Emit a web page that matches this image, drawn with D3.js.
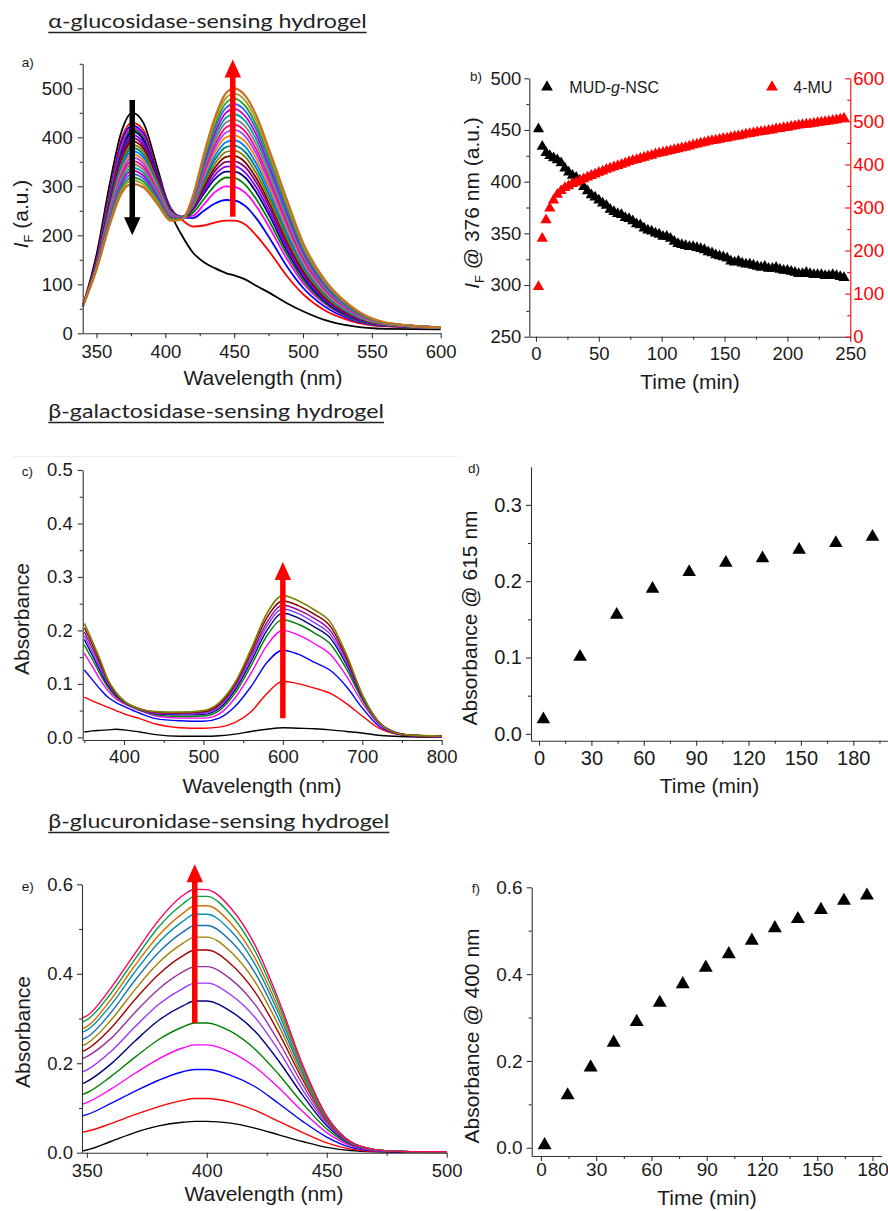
<!DOCTYPE html>
<html><head><meta charset="utf-8">
<script src="https://cdn.jsdelivr.net/npm/d3@7"></script>
<style>body{margin:0;background:#fff}svg{display:block}</style>
</head><body><svg id="fig" width="888" height="1211"></svg>
<script>
// ---------------- DATA ----------------
const titles = ["α-glucosidase-sensing hydrogel", "β-galactosidase-sensing hydrogel", "β-glucuronidase-sensing hydrogel"];

// panel a: fluorescence spectra
const aWavelengths = [340,350,360,368,376,384,394,404,412,420,428,436,444,450,458,466,476,488,500,515,535,560,600];
const aSpectra = [
 [55,160,310,410,450,430,340,245,200,165,145,133,123,118,110,97,82,62,45,28,15,9,8],
 [55,150,295,395,430,415,330,255,232,218,220,226,230,230,222,200,165,118,80,48,25,14,11],
 [55,148,290,388,424,408,328,255,236,235,250,265,272,271,260,235,193,138,93,56,28,15,11],
 [55,146,285,380,420,403,327,254,237,240,263,288,300,299,287,260,214,153,103,62,30,16,11],
 [55,144,280,372,416,399,326,253,237,246,274,302,318,317,303,274,226,162,109,65,31,16,11],
 [55,142,272,365,412,395,325,252,238,252,285,315,330,330,318,288,238,170,115,68,33,17,11],
 [55,141,269,360,405,389,321,251,238,254,290,323,340,341,328,298,246,177,119,71,34,17,11],
 [55,140,266,355,399,383,318,249,237,256,295,331,350,351,339,308,255,183,124,74,36,18,11],
 [55,140,263,350,392,377,314,248,237,257,300,338,360,362,349,317,263,190,128,76,37,18,11],
 [55,139,260,345,385,371,310,247,237,259,305,346,370,373,360,327,271,196,133,79,39,18,11],
 [55,138,257,340,379,365,306,245,236,261,310,354,380,383,370,337,279,203,137,82,40,19,11],
 [55,137,254,335,372,359,303,244,236,263,315,362,390,394,381,347,288,209,141,85,41,19,11],
 [55,137,251,330,365,353,299,242,235,264,320,370,400,404,391,357,296,216,146,87,43,19,11],
 [55,136,249,325,359,347,295,241,235,266,325,378,410,415,402,367,304,223,150,90,44,20,12],
 [55,135,246,320,352,340,291,240,235,268,330,385,420,426,412,376,312,229,154,93,45,20,12],
 [55,134,243,315,345,334,288,238,234,270,335,393,430,436,422,386,321,236,159,96,47,20,12],
 [55,134,240,310,338,328,284,237,234,271,340,401,440,447,433,396,329,242,163,98,48,21,12],
 [55,133,237,305,332,322,280,236,234,273,345,409,450,458,443,406,337,249,167,101,50,21,12],
 [55,132,234,300,325,316,276,234,233,275,350,417,460,468,454,416,345,255,172,104,51,21,12],
 [55,131,231,295,318,310,273,233,233,277,355,424,470,479,464,425,354,262,176,107,52,21,12],
 [55,131,228,290,312,304,269,231,232,278,360,432,480,489,475,435,362,268,180,109,54,22,12],
 [55,130,225,285,305,298,265,230,232,280,365,440,490,500,485,445,370,275,185,112,55,22,12]
];
const aColors = ["#000000","#ff0000","#0000ff","#ff00ff","#008000","#000080","#8000ff","#800080","#800000","#808000","#008080","#0080ff","#ff8000","#a040ff","#ff0080","#808080","#00a0a0","#c000c0","#4060ff","#20a020","#a0a020","#c87020"];
const aArrows = [{x:376, from:476, to:200, color:"#000000"}, {x:449, from:238, to:559, color:"#ff0000"}];

// panel b: time course
const bTime = [2,5,8,11,14,17,20,23,26,29,32,35,38,41,44,47,50,53,56,59,62,65,68,71,74,77,80,83,86,89,92,95,98,101,104,107,110,113,116,119,122,125,128,131,134,137,140,143,146,149,152,155,158,161,164,167,170,173,176,179,182,185,188,191,194,197,200,203,206,209,212,215,218,221,224,227,230,233,236,239,242,245];
const bMUD = [451,434,428,425,423,421,418,413,409,406,404,401,395,391,387,385,382,379,377,373,371,369,368,365,364,362,359,358,355,353,352,350,349,347,347,345,342,340,339,338,337,337,336,335,334,332,331,329,328,327,326,323,322,323,321,320,320,319,318,317,318,316,316,317,315,314,314,313,312,311,311,312,311,310,310,310,309,309,310,309,308,307];
const b4MU = [116,228,271,298,317,330,339,346,350,355,358,362,366,370,374,377,381,384,388,391,394,397,400,403,406,409,411,414,416,419,421,424,426,428,430,432,434,436,438,440,442,445,447,449,451,453,455,456,458,460,461,463,465,466,468,470,471,473,475,476,477,479,480,482,483,485,486,488,489,491,492,493,494,495,497,498,499,500,502,503,505,507];
const bSeries = ["MUD-g-NSC", "4-MU"];

// panel c: absorbance spectra
const cWavelengths = [350,360,370,380,390,400,420,440,470,500,520,540,560,580,600,620,640,660,680,700,720,740,760,800];
const cSpectra = [
 [.010,.012,.013,.014,.015,.014,.010,.005,.002,.002,.003,.006,.011,.015,.018,.017,.016,.014,.011,.008,.004,.002,.001,.000],
 [.075,.068,.062,.056,.050,.044,.035,.025,.018,.017,.019,.028,.048,.082,.105,.100,.092,.082,.063,.040,.018,.007,.003,.001],
 [.126,.108,.090,.075,.065,.058,.045,.035,.031,.030,.036,.058,.095,.140,.163,.155,.140,.125,.095,.055,.022,.008,.003,.001],
 [.157,.133,.108,.087,.072,.063,.050,.040,.036,.036,.044,.074,.120,.172,.200,.191,.175,.155,.115,.065,.026,.009,.004,.001],
 [.173,.146,.118,.093,.076,.065,.051,.042,.039,.040,.050,.083,.134,.190,.220,.211,.195,.174,.128,.071,.028,.010,.004,.002],
 [.183,.154,.124,.097,.078,.066,.052,.044,.042,.043,.054,.089,.142,.200,.232,.223,.206,.185,.136,.075,.029,.010,.004,.002],
 [.190,.160,.129,.100,.080,.067,.052,.045,.044,.045,.057,.093,.148,.208,.240,.231,.214,.192,.140,.077,.029,.010,.004,.002],
 [.197,.167,.135,.103,.081,.067,.053,.046,.045,.047,.060,.097,.154,.215,.247,.238,.222,.199,.145,.078,.030,.010,.004,.002],
 [.205,.174,.140,.105,.082,.068,.053,.047,.046,.048,.062,.100,.160,.224,.255,.246,.230,.207,.150,.079,.030,.009,.004,.002],
 [.213,.180,.145,.107,.084,.068,.053,.048,.047,.050,.065,.103,.165,.232,.265,.255,.238,.215,.155,.080,.030,.009,.004,.002]
];
const cColors = ["#000000","#ff0000","#0000ff","#ff00ff","#008000","#000080","#8040ff","#a000a0","#800000","#808000"];
const cArrow = {x:600, from:0.0355, to:0.328, color:"#ff0000"};

// panel d
const dTime = [2.5,23.5,44.5,65,86,107,128,149,170,191];
const dAbs = [0.019,0.101,0.156,0.190,0.212,0.224,0.230,0.241,0.250,0.258];

// panel e
const eWavelengths = [348,350,360,370,380,390,395,400,410,420,430,440,450,460,470,480,490,500];
const eSpectra = [
 [.004,.006,.025,.045,.060,.068,.070,.070,.066,.055,.040,.025,.012,.005,.002,.001,.001,.001],
 [.046,.048,.065,.085,.103,.117,.121,.121,.113,.095,.070,.045,.022,.008,.003,.002,.001,.001],
 [.082,.085,.110,.137,.162,.181,.186,.186,.173,.148,.110,.070,.035,.012,.004,.002,.002,.001],
 [.108,.112,.142,.177,.210,.234,.241,.241,.225,.192,.145,.092,.045,.016,.005,.003,.002,.002],
 [.130,.134,.170,.213,.253,.281,.290,.290,.271,.232,.175,.110,.053,.018,.006,.003,.002,.002],
 [.154,.159,.198,.249,.296,.328,.339,.339,.316,.272,.205,.128,.060,.020,.006,.003,.002,.002],
 [.180,.185,.226,.281,.332,.367,.379,.379,.353,.303,.228,.140,.065,.021,.006,.003,.002,.002],
 [.210,.215,.255,.313,.366,.404,.416,.416,.388,.332,.248,.152,.069,.022,.006,.003,.002,.002],
 [.226,.231,.278,.342,.399,.440,.453,.453,.422,.360,.268,.163,.073,.023,.007,.003,.002,.002],
 [.239,.244,.296,.364,.425,.468,.482,.482,.449,.383,.284,.170,.075,.023,.007,.003,.002,.002],
 [.253,.258,.313,.385,.448,.493,.508,.508,.473,.403,.298,.177,.077,.024,.007,.003,.002,.002],
 [.269,.274,.330,.404,.470,.517,.533,.533,.496,.422,.311,.183,.079,.024,.007,.003,.002,.002],
 [.277,.282,.342,.418,.486,.535,.552,.552,.513,.436,.321,.187,.080,.024,.007,.003,.002,.002],
 [.292,.297,.356,.432,.505,.556,.573,.573,.532,.452,.332,.192,.081,.024,.007,.003,.002,.002],
 [.301,.306,.368,.445,.520,.575,.589,.588,.547,.465,.341,.196,.082,.024,.007,.003,.002,.002]
];
const eColors = ["#000000","#ff0000","#0000ff","#ff00ff","#008000","#000080","#9933ff","#993399","#a00000","#a08000","#1a70b0","#0090b0","#d07000","#00a040","#ff0066"];
const eArrow = {x:395, from:0.29, to:0.645, color:"#ff0000"};

// panel f
const fTime = [2,14.5,27,39.5,52,64.5,77,89.5,102,114.5,127,139.5,152,164.5,177];
const fAbs = [0.006,0.121,0.185,0.242,0.290,0.334,0.377,0.415,0.446,0.477,0.506,0.527,0.548,0.569,0.581];

// ---------------- DRAWING ----------------
const svg = d3.select("#fig");
const FONT = '"Liberation Sans", Arial, Helvetica, sans-serif';
const AX = "#333333";
const TXT = "#1a1a1a";

function makeAxes(x, y, o) {
  const yb = y.range()[0], xl = x.range()[0];
  const gx = svg.append("g").attr("transform", `translate(0,${yb})`)
    .call(d3.axisBottom(x).tickValues(o.xMajor).tickSize(5).tickSizeOuter(0).tickPadding(o.xPad).tickFormat(o.xFmt));
  const gxm = svg.append("g").attr("transform", `translate(0,${yb})`)
    .call(d3.axisBottom(x).tickValues(o.xMinor).tickSize(3).tickSizeOuter(0).tickFormat(""));
  gxm.select(".domain").remove();
  const gy = svg.append("g").attr("transform", `translate(${xl},0)`)
    .call(d3.axisLeft(y).tickValues(o.yMajor).tickSize(5).tickSizeOuter(0).tickPadding(o.yPad).tickFormat(o.yFmt));
  const gym = svg.append("g").attr("transform", `translate(${xl},0)`)
    .call(d3.axisLeft(y).tickValues(o.yMinor).tickSize(3).tickSizeOuter(0).tickFormat(""));
  gym.select(".domain").remove();
  [gx, gxm, gy, gym].forEach(a => {
    a.attr("font-size", o.fs).attr("font-family", FONT).attr("color", AX);
    a.selectAll(".domain,.tick line").attr("stroke-width", 1.1);
    a.selectAll("text").attr("fill", TXT);
  });
}

function yLabel(cx, cy, parts, fs) {
  const t = svg.append("text").attr("transform", `translate(${cx},${cy}) rotate(-90)`)
    .attr("text-anchor", "middle").attr("font-size", fs).attr("font-family", FONT).attr("fill", TXT);
  parts.forEach(p => {
    const s = t.append("tspan").text(p.t);
    if (p.i) s.attr("font-style", "italic");
    if (p.s) s.attr("font-size", p.s);
    if (p.dy) s.attr("dy", p.dy);
  });
}
function xLabel(cx, by, txt, fs) {
  svg.append("text").attr("x", cx).attr("y", by).attr("text-anchor", "middle")
    .attr("font-size", fs).attr("font-family", FONT).attr("fill", TXT).text(txt);
}
function panelTag(x, y, txt) {
  svg.append("text").attr("x", x).attr("y", y).attr("font-size", 13.5).attr("font-family", FONT).attr("fill", TXT).text(txt);
}
function title(x0, x1, by, uy, txt) {
  svg.append("text").attr("x", x0).attr("y", by).attr("font-size", 19.5).attr("font-family", "Lato, 'Open Sans', sans-serif")
    .attr("fill", "#222").attr("textLength", x1 - x0).attr("lengthAdjust", "spacingAndGlyphs").text(txt);
  svg.append("line").attr("x1", x0).attr("x2", x1).attr("y1", uy).attr("y2", uy).attr("stroke", "#222").attr("stroke-width", 1.3);
}
function arrow(xp, y0, y1, color) {
  const sw = 5.5, hw = 16.5, hl = 18;
  const dir = Math.sign(y1 - y0);
  const yb = y1 - dir * hl;
  const p = `M${xp-sw/2},${y0}L${xp+sw/2},${y0}L${xp+sw/2},${yb}L${xp+hw/2},${yb}L${xp},${y1}L${xp-hw/2},${yb}L${xp-sw/2},${yb}Z`;
  svg.append("path").attr("d", p).attr("fill", color);
}
function spectra(x, y, wl, rows, colors, lw) {
  const line = d3.line().x((d, i) => x(wl[i])).y(d => y(d)).curve(d3.curveMonotoneX);
  rows.forEach((r, i) => {
    svg.append("path").attr("d", line(r)).attr("fill", "none").attr("stroke", colors[i % colors.length])
      .attr("stroke-width", i === rows.length - 1 && lw.last ? lw.last : lw.w).attr("stroke-linejoin", "round");
  });
}
function tri(x, y, xs, ys, color, size) {
  const sym = d3.symbol().type(d3.symbolTriangle).size(size);
  xs.forEach((t, i) => {
    svg.append("path").attr("d", sym()).attr("transform", `translate(${x(t)},${y(ys[i])})`).attr("fill", color);
  });
}

// titles
title(48.3, 366.7, 28, 32.5, titles[0]);
title(48.3, 384, 418, 422.5, titles[1]);
title(48.3, 389.3, 828, 832.5, titles[2]);
svg.append("line").attr("x1", 13).attr("x2", 458).attr("y1", 456.5).attr("y2", 456.5).attr("stroke", "#ececec").attr("stroke-width", 1);

// ---- panel a ----
{
  const x = d3.scaleLinear().domain([340, 600]).range([82.7, 440.7]);
  const y = d3.scaleLinear().domain([0, 550]).range([333.3, 63.8]);
  spectra(x, y, aWavelengths, aSpectra, aColors, {w: 1.8, last: 2.2});
  aArrows.forEach(a => arrow(x(a.x), y(a.from), y(a.to), a.color));
  makeAxes(x, y, {xMajor: [350,400,450,500,550,600], xMinor: [375,425,475,525,575], xFmt: d3.format("d"), xPad: 7,
    yMajor: [0,100,200,300,400,500], yMinor: [50,150,250,350,450,550], yFmt: d3.format("d"), yPad: 5, fs: 18.5});
  yLabel(28, 214, [{t: "I", i: true}, {t: "F", s: 13, dy: 5}, {t: " (a.u.)", dy: -5}], 21);
  xLabel(263, 385, "Wavelength (nm)", 21);
  panelTag(21.7, 67, "a)");
}

// ---- panel b ----
{
  const x = d3.scaleLinear().domain([-5.3, 250]).range([529.3, 850.3]);
  const y = d3.scaleLinear().domain([250, 500]).range([336.7, 78.3]);
  const yr = d3.scaleLinear().domain([0, 600]).range([336.7, 78.3]);
  tri(x, y, bTime, bMUD, "#000000", 55);
  tri(x, yr, bTime, b4MU, "#ff0000", 55);
  makeAxes(x, y, {xMajor: [0,50,100,150,200,250], xMinor: [25,75,125,175,225], xFmt: d3.format("d"), xPad: 5,
    yMajor: [250,300,350,400,450,500], yMinor: [275,325,375,425,475], yFmt: d3.format("d"), yPad: 3, fs: 18.5});
  const gr = svg.append("g").attr("transform", "translate(850.3,0)")
    .call(d3.axisRight(yr).tickValues([0,100,200,300,400,500,600]).tickSizeInner(-5).tickSizeOuter(0).tickPadding(3).tickFormat(d3.format("d")));
  const grm = svg.append("g").attr("transform", "translate(850.3,0)")
    .call(d3.axisRight(yr).tickValues([50,150,250,350,450,550]).tickSizeInner(-3).tickSizeOuter(0).tickFormat(""));
  grm.select(".domain").remove();
  [gr, grm].forEach(a => { a.attr("font-size", 18.5).attr("font-family", FONT).attr("color", "#ff0000");
    a.selectAll(".domain,.tick line").attr("stroke-width", 1.1); });
  // legend
  const sym = d3.symbol().type(d3.symbolTriangle).size(60);
  svg.append("path").attr("d", sym()).attr("transform", "translate(547,87)").attr("fill", "#000");
  const lt = svg.append("text").attr("x", 569.3).attr("y", 93).attr("font-size", 16).attr("font-family", FONT).attr("fill", TXT);
  lt.append("tspan").text("MUD-"); lt.append("tspan").attr("font-style", "italic").text("g"); lt.append("tspan").text("-NSC");
  svg.append("path").attr("d", sym()).attr("transform", "translate(772,87)").attr("fill", "#ff0000");
  svg.append("text").attr("x", 793.3).attr("y", 93).attr("font-size", 16).attr("font-family", FONT).attr("fill", TXT).text(bSeries[1]);
  yLabel(479, 203, [{t: "I", i: true}, {t: "F", s: 13, dy: 5}, {t: " @ 376 nm (a.u.)", dy: -5}], 21);
  xLabel(690, 389, "Time (min)", 21);
  panelTag(470, 81, "b)");
}

// ---- panel c ----
{
  const x = d3.scaleLinear().domain([348, 800]).range([82.7, 441.7]);
  const y = d3.scaleLinear().domain([-0.005, 0.5]).range([740, 470]);
  spectra(x, y, cWavelengths, cSpectra, cColors, {w: 1.4, last: 1.7});
  arrow(x(cArrow.x), y(cArrow.from), y(cArrow.to), cArrow.color);
  makeAxes(x, y, {xMajor: [400,500,600,700,800], xMinor: [350,450,550,650,750], xFmt: d3.format("d"), xPad: 5,
    yMajor: [0,0.1,0.2,0.3,0.4,0.5], yMinor: [0.05,0.15,0.25,0.35,0.45], yFmt: d3.format(".1f"), yPad: 5, fs: 18.5});
  yLabel(29, 619, [{t: "Absorbance"}], 21);
  xLabel(262, 793, "Wavelength (nm)", 21);
  panelTag(21.7, 476, "c)");
}

// ---- panel d ----
{
  const x = d3.scaleLinear().domain([-4.6, 200]).range([531, 888.2]);
  const y = d3.scaleLinear().domain([-0.009, 0.35]).range([740.7, 466.7]);
  tri(x, y, dTime, dAbs, "#000000", 80);
  makeAxes(x, y, {xMajor: [0,30,60,90,120,150,180], xMinor: [15,45,75,105,135,165,195], xFmt: d3.format("d"), xPad: 5,
    yMajor: [0,0.1,0.2,0.3], yMinor: [0.05,0.15,0.25], yFmt: d3.format(".1f"), yPad: 4, fs: 20});
  yLabel(477, 618, [{t: "Absorbance @ 615 nm"}], 21);
  xLabel(709.5, 793, "Time (min)", 21);
  panelTag(468, 473, "d)");
}

// ---- panel e ----
{
  const x = d3.scaleLinear().domain([348, 500]).range([82, 446.7]);
  const y = d3.scaleLinear().domain([0, 0.6]).range([1152.7, 884.3]);
  spectra(x, y, eWavelengths, eSpectra, eColors, {w: 1.4});
  arrow(x(eArrow.x), y(eArrow.from), y(eArrow.to), eArrow.color);
  makeAxes(x, y, {xMajor: [350,400,450,500], xMinor: [375,425,475], xFmt: d3.format("d"), xPad: 6,
    yMajor: [0,0.2,0.4,0.6], yMinor: [0.1,0.3,0.5], yFmt: d3.format(".1f"), yPad: 4, fs: 18.5});
  yLabel(30, 1032, [{t: "Absorbance"}], 21);
  xLabel(264, 1201, "Wavelength (nm)", 21);
  panelTag(21.7, 891, "e)");
}

// ---- panel f ----
{
  const x = d3.scaleLinear().domain([-5, 185]).range([531.7, 881.7]);
  const y = d3.scaleLinear().domain([-0.019, 0.6]).range([1156, 887.3]);
  tri(x, y, fTime, fAbs, "#000000", 85);
  makeAxes(x, y, {xMajor: [0,30,60,90,120,150,180], xMinor: [15,45,75,105,135,165], xFmt: d3.format("d"), xPad: 2,
    yMajor: [0,0.2,0.4,0.6], yMinor: [0.1,0.3,0.5], yFmt: d3.format(".1f"), yPad: 4, fs: 19});
  yLabel(479, 1036, [{t: "Absorbance @ 400 nm"}], 21);
  xLabel(707, 1205, "Time (min)", 21);
  panelTag(471.7, 893, "f)");
}
</script></body></html>
